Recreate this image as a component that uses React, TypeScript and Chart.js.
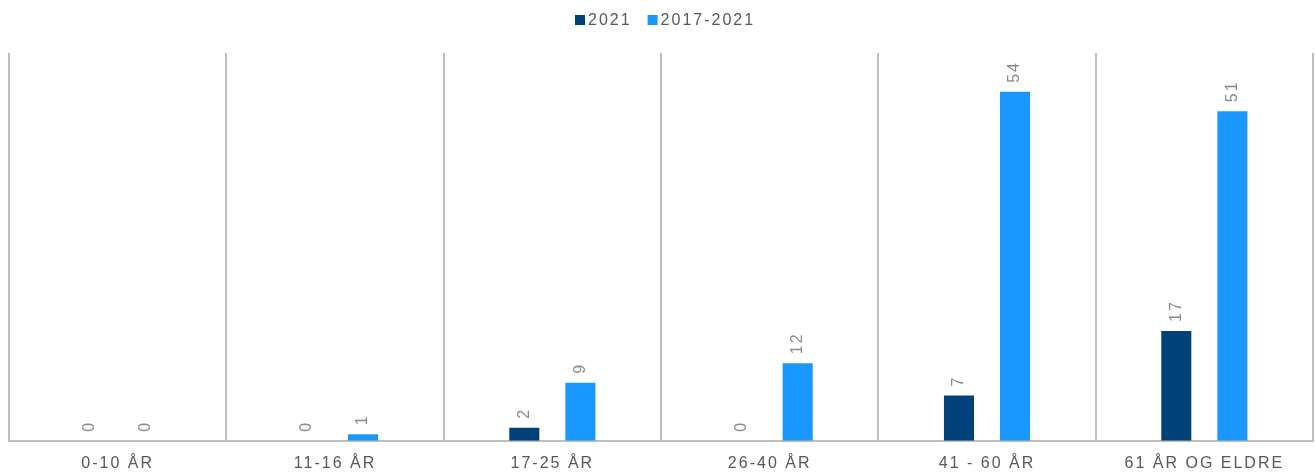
import React, { useEffect, useRef } from "react";
import { Chart, registerables } from "chart.js";

Chart.register(...registerables);

const categories: string[] = ["0-10 ÅR", "11-16 ÅR", "17-25 ÅR", "26-40 ÅR", "41 - 60 ÅR", "61 ÅR OG ELDRE"];
const values2021: number[] = [0, 0, 2, 0, 7, 17];
const values2017to2021: number[] = [0, 1, 9, 12, 54, 51];
const seriesNames: string[] = ["2021", "2017-2021"];
const seriesColors: string[] = ["#00417A", "#1A98FF"];

const FONT = "'Liberation Sans', Arial, sans-serif";

const spacingPlugin = {
  id: "spacing",
  beforeInit(chart: any) { chart.ctx.letterSpacing = "2px"; },
  beforeLayout(chart: any) { chart.ctx.letterSpacing = "2px"; },
  beforeDraw(chart: any) { chart.ctx.letterSpacing = "2px"; },
};

const labelPlugin = {
  id: "barLabels",
  afterDatasetsDraw(chart: any) {
    const ctx = chart.ctx;
    ctx.save();
    ctx.letterSpacing = "2px";
    ctx.font = `16px ${FONT}`;
    ctx.fillStyle = "#8c8c8c";
    ctx.textAlign = "left";
    ctx.textBaseline = "middle";
    chart.data.datasets.forEach((ds: any, di: number) => {
      const meta = chart.getDatasetMeta(di);
      meta.data.forEach((bar: any, i: number) => {
        const v = ds.data[i];
        ctx.save();
        ctx.translate(bar.x, bar.y - 9);
        ctx.rotate(-Math.PI / 2);
        ctx.fillText(String(v), 0, 0);
        ctx.restore();
      });
    });
    ctx.restore();
  },
};

const legendPlugin = {
  id: "customLegend",
  afterDraw(chart: any) {
    const ctx = chart.ctx;
    ctx.save();
    ctx.letterSpacing = "2px";
    ctx.font = `16px ${FONT}`;
    ctx.textBaseline = "middle";
    ctx.textAlign = "left";
    const box = 10;
    const gapBoxText = 3;
    const gapItems = 16;
    const items = chart.data.datasets.map((ds: any) => ({
      label: ds.label,
      color: ds.backgroundColor,
      w: box + gapBoxText + ctx.measureText(ds.label).width,
    }));
    const total = items.reduce((s: number, it: any) => s + it.w, 0) + gapItems * (items.length - 1);
    const area = chart.chartArea;
    let x = Math.round((area.left + area.right) / 2 - total / 2 + 4);
    const cy = 21;
    items.forEach((it: any) => {
      ctx.fillStyle = it.color;
      ctx.fillRect(x, cy - box / 2 - 1, box, box);
      ctx.fillStyle = "#595959";
      ctx.fillText(it.label, x + box + gapBoxText, cy);
      x += it.w + gapItems;
    });
    ctx.restore();
  },
};

export default function App() {
  const ref = useRef<HTMLCanvasElement | null>(null);
  useEffect(() => {
    if (!ref.current) return;
    const chart = new Chart(ref.current, {
      type: "bar",
      data: {
        labels: categories,
        datasets: [
          { label: seriesNames[0], data: values2021, backgroundColor: seriesColors[0] },
          { label: seriesNames[1], data: values2017to2021, backgroundColor: seriesColors[1] },
        ],
      },
      options: {
        responsive: false,
        animation: false,
        categoryPercentage: 0.516,
        barPercentage: 0.536,
        layout: { padding: { left: 9, right: 2, top: 53, bottom: -13 } },
        plugins: {
          legend: { display: false },
          tooltip: { enabled: false },
        },
        scales: {
          x: {
            grid: { color: "#bfbfbf", lineWidth: 2, drawTicks: false, offset: true },
            border: { color: "#bfbfbf", width: 2 },
            ticks: {
              color: "#595959",
              font: { size: 16, family: FONT },
              maxRotation: 0,
              autoSkip: false,
              padding: 13,
            },
          },
          y: { display: false, min: 0, max: 60 },
        },
      },
      plugins: [spacingPlugin, labelPlugin, legendPlugin],
    });
    return () => chart.destroy();
  }, []);
  return (
    <div style={{ position: "fixed", left: 0, top: 0, width: 1315, height: 473, background: "#fff" }}>
      <canvas ref={ref} width={1315} height={473} />
    </div>
  );
}
